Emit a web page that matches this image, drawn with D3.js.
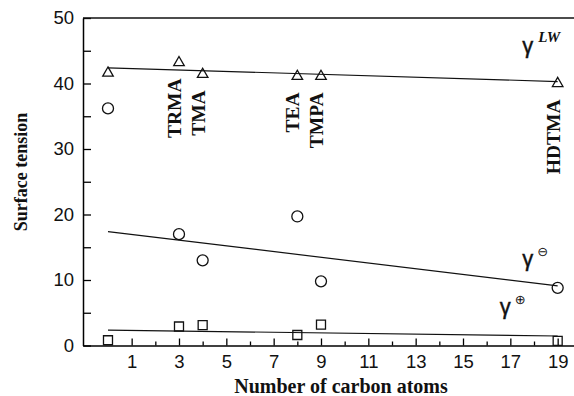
<!DOCTYPE html>
<html>
<head>
<meta charset="utf-8">
<script src="https://cdn.jsdelivr.net/npm/d3@7"></script>
<style>
  body { margin: 0; background: #fff; }
  svg { display: block; }
  .tick text { font-family: "Liberation Sans", Arial, sans-serif; font-size: 18.5px; fill: #111; }
  .serif { font-family: "Liberation Serif", "Times New Roman", serif; font-weight: bold; fill: #111; }
</style>
</head>
<body>
<svg id="chart" width="574" height="396"></svg>
<script>
// data
const carbons = [0, 3, 4, 8, 9, 19];
const gammaLW = [41.6, 43.2, 41.4, 41.1, 41.1, 40.0];
const gammaMinus = [36.2, 17.0, 13.0, 19.7, 9.8, 8.8];
const gammaPlus = [0.8, 2.9, 3.1, 1.6, 3.2, 0.7];

// fitted lines (end values at 0 and 19 carbons)
const fitCarbons = [0, 19];
const fitLW = [42.4, 40.3];
const fitMinus = [17.4, 9.1];
const fitPlus = [2.35, 1.45];

const compoundCarbons = [3, 4, 8, 9, 19];
const compoundNames = ['TRMA', 'TMA', 'TEA', 'TMPA', 'HDTMA'];

const xTicks = [1, 3, 5, 7, 9, 11, 13, 15, 17, 19];
const xMinorTicks = [2, 4, 6, 8, 10, 12, 14, 16, 18];
const yTicks = [0, 10, 20, 30, 40, 50];
const yMinorTicks = [5, 15, 25, 35, 45];

const svg = d3.select('#chart');
const plotLeft = 83, plotRight = 574, plotTop = 18, plotBottom = 345.5;

const x = d3.scaleLinear().domain([-1.056, 19.69]).range([plotLeft, plotRight]);
const y = d3.scaleLinear().domain([0, 50]).range([plotBottom, plotTop]);

// x axis (ticks point inward)
svg.append('g')
  .attr('transform', `translate(0,${plotBottom})`)
  .call(d3.axisBottom(x).tickValues(xTicks).tickSize(-7).tickSizeOuter(0).tickPadding(9))
  .call(g => g.select('.domain').attr('stroke-width', 1.5));
svg.append('g')
  .attr('transform', `translate(0,${plotBottom})`)
  .call(d3.axisBottom(x).tickValues(xMinorTicks).tickSize(-4).tickSizeOuter(0).tickFormat(''))
  .call(g => g.select('.domain').remove());

// y axis
svg.append('g')
  .attr('transform', `translate(${plotLeft},0)`)
  .call(d3.axisLeft(y).tickValues(yTicks).tickSize(-8).tickSizeOuter(0).tickPadding(9))
  .call(g => g.select('.domain').attr('stroke-width', 1.5));
svg.append('g')
  .attr('transform', `translate(${plotLeft},0)`)
  .call(d3.axisLeft(y).tickValues(yMinorTicks).tickSize(-8).tickSizeOuter(0).tickFormat(''))
  .call(g => g.select('.domain').remove());

svg.selectAll('.tick line').attr('stroke-width', 1.3);

// top frame line
svg.append('line')
  .attr('x1', plotLeft).attr('x2', plotRight)
  .attr('y1', y(50)).attr('y2', y(50))
  .attr('stroke', '#111').attr('stroke-width', 1.5);

// fit lines
const line = d3.line().x(d => x(d[0])).y(d => y(d[1]));
[fitLW, fitMinus, fitPlus].forEach(fit => {
  svg.append('path')
    .datum(fitCarbons.map((c, i) => [c, fit[i]]))
    .attr('fill', 'none')
    .attr('stroke', '#111')
    .attr('stroke-width', 1.2)
    .attr('d', line);
});

// markers
const tri = d3.symbol(d3.symbolTriangle, 48);
svg.append('g').selectAll('path')
  .data(carbons.map((c, i) => [c, gammaLW[i]]))
  .join('path')
  .attr('transform', d => `translate(${x(d[0])},${y(d[1])})`)
  .attr('d', tri)
  .attr('fill', 'none').attr('stroke', '#111').attr('stroke-width', 1.3);

svg.append('g').selectAll('circle')
  .data(carbons.map((c, i) => [c, gammaMinus[i]]))
  .join('circle')
  .attr('cx', d => x(d[0])).attr('cy', d => y(d[1])).attr('r', 5.5)
  .attr('fill', 'none').attr('stroke', '#111').attr('stroke-width', 1.3);

const sq = d3.symbol(d3.symbolSquare, 81);
svg.append('g').selectAll('path')
  .data(carbons.map((c, i) => [c, gammaPlus[i]]))
  .join('path')
  .attr('transform', d => `translate(${x(d[0])},${y(d[1])})`)
  .attr('d', sq)
  .attr('fill', 'none').attr('stroke', '#111').attr('stroke-width', 1.3);

// compound labels (vertical, hanging below the triangles)
compoundCarbons.forEach((c, i) => {
  const v = gammaLW[carbons.indexOf(c)];
  svg.append('text')
    .attr('class', 'serif')
    .attr('font-size', 19.5)
    .attr('text-anchor', 'end')
    .attr('transform', `translate(${x(c) + 2},${y(v) + 16}) rotate(-90)`)
    .text(compoundNames[i]);
});

// gamma labels
function gammaLabel(cx, cy, sup, italic) {
  const t = svg.append('text')
    .attr('x', x(cx)).attr('y', y(cy))
    .attr('font-family', '"Liberation Sans", Arial, sans-serif')
    .attr('font-size', 22)
    .attr('fill', '#111');
  t.append('tspan').attr('stroke', '#111').attr('stroke-width', 0.4).text('γ');
  if (italic) {
    t.append('tspan')
      .attr('dx', 5).attr('dy', -11)
      .attr('font-family', '"Liberation Serif", serif')
      .attr('font-style', 'italic').attr('font-weight', 'bold')
      .attr('font-size', 15)
      .text(sup);
  } else {
    t.append('tspan')
      .attr('dx', 4).attr('dy', -10)
      .attr('font-family', '"DejaVu Sans", sans-serif')
      .attr('font-size', 13)
      .text(sup);
  }
}
gammaLabel(17.5, 44.6, 'LW', true);
gammaLabel(17.5, 12.1, '⊖', false);
gammaLabel(16.55, 4.8, '⊕', false);

// axis titles
svg.append('text')
  .attr('class', 'serif')
  .attr('font-size', 20)
  .attr('text-anchor', 'middle')
  .attr('x', 341).attr('y', 393)
  .text('Number of carbon atoms');

svg.append('text')
  .attr('class', 'serif')
  .attr('font-size', 18)
  .attr('text-anchor', 'middle')
  .attr('transform', 'translate(27,172) rotate(-90)')
  .text('Surface tension');
</script>
</body>
</html>
